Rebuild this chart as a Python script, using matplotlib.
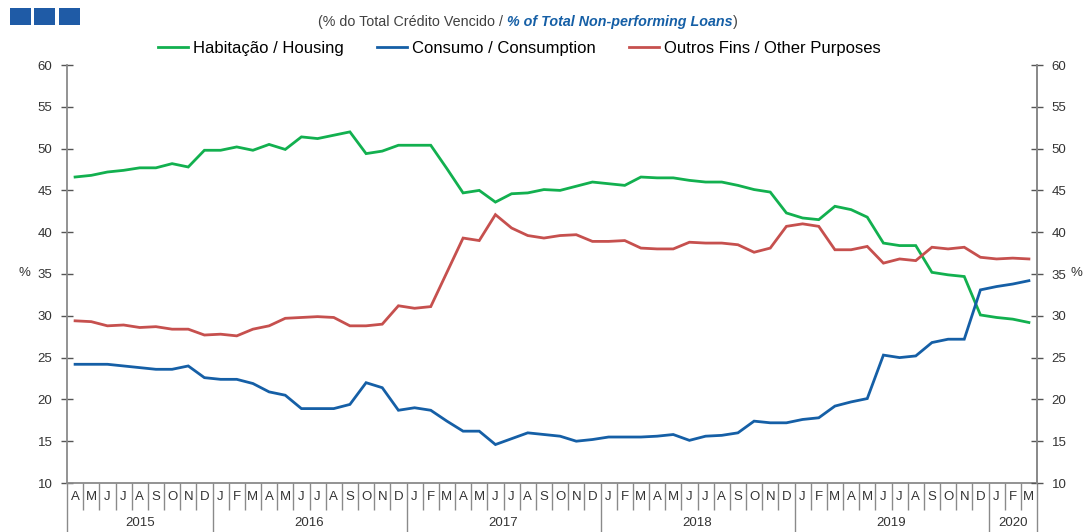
import matplotlib
matplotlib.use('Agg')
import matplotlib.pyplot as plt
from matplotlib.transforms import blended_transform_factory
from matplotlib.patches import Rectangle
from matplotlib.lines import Line2D

plt.rcParams['font.family'] = ['Liberation Sans', 'DejaVu Sans']

# ---------------- data ----------------
months = ['A', 'M', 'J', 'J', 'A', 'S', 'O', 'N', 'D'] + \
         ['J', 'F', 'M', 'A', 'M', 'J', 'J', 'A', 'S', 'O', 'N', 'D'] * 4 + \
         ['J', 'F', 'M']
years = ['2015', '2016', '2017', '2018', '2019', '2020']
months_per_year = [9, 12, 12, 12, 12, 3]

housing = [46.6, 46.8, 47.2, 47.4, 47.7, 47.7, 48.2, 47.8, 49.8,
           49.8, 50.2, 49.8, 50.5, 49.9, 51.4, 51.2, 51.6, 52.0, 49.4, 49.7, 50.4,
           50.4, 50.4, 47.6, 44.7, 45.0, 43.6, 44.6, 44.7, 45.1, 45.0, 45.5, 46.0,
           45.8, 45.6, 46.6, 46.5, 46.5, 46.2, 46.0, 46.0, 45.6, 45.1, 44.8, 42.3,
           41.7, 41.5, 43.1, 42.7, 41.8, 38.7, 38.4, 38.4, 35.2, 34.9, 34.7, 30.1,
           29.8, 29.6, 29.2]

consumption = [24.2, 24.2, 24.2, 24.0, 23.8, 23.6, 23.6, 24.0, 22.6,
               22.4, 22.4, 21.9, 20.9, 20.5, 18.9, 18.9, 18.9, 19.4, 22.0, 21.4, 18.7,
               19.0, 18.7, 17.4, 16.2, 16.2, 14.6, 15.3, 16.0, 15.8, 15.6, 15.0, 15.2,
               15.5, 15.5, 15.5, 15.6, 15.8, 15.1, 15.6, 15.7, 16.0, 17.4, 17.2, 17.2,
               17.6, 17.8, 19.2, 19.7, 20.1, 25.3, 25.0, 25.2, 26.8, 27.2, 27.2, 33.1,
               33.5, 33.8, 34.2]

other = [29.4, 29.3, 28.8, 28.9, 28.6, 28.7, 28.4, 28.4, 27.7,
         27.8, 27.6, 28.4, 28.8, 29.7, 29.8, 29.9, 29.8, 28.8, 28.8, 29.0, 31.2,
         30.9, 31.1, 35.2, 39.3, 39.0, 42.1, 40.5, 39.6, 39.3, 39.6, 39.7, 38.9,
         38.9, 39.0, 38.1, 38.0, 38.0, 38.8, 38.7, 38.7, 38.5, 37.6, 38.1, 40.7,
         41.0, 40.7, 37.9, 37.9, 38.3, 36.3, 36.8, 36.6, 38.2, 38.0, 38.2, 37.0,
         36.8, 36.9, 36.8]

series_labels = ['Habitação / Housing', 'Consumo / Consumption', 'Outros Fins / Other Purposes']
yticks = [10, 15, 20, 25, 30, 35, 40, 45, 50, 55, 60]

# ---------------- style ----------------
GREEN = '#12b04f'
BLUE = '#155fa6'
RED = '#c6504e'
AXIS = '#8a8a8a'
TXT = '#333333'
W, H = 1084, 532

fig = plt.figure(figsize=(W / 100, H / 100), dpi=100)
fig.patch.set_facecolor('white')
ax = fig.add_axes([67 / W, 49 / H, 970 / W, 418 / H])

x = list(range(len(months)))
ax.plot(x, housing, color=GREEN, lw=2.0, label=series_labels[0], solid_joinstyle='miter')
ax.plot(x, consumption, color=BLUE, lw=2.0, label=series_labels[1], solid_joinstyle='miter')
ax.plot(x, other, color=RED, lw=2.0, label=series_labels[2], solid_joinstyle='miter')

ax.set_xlim(-0.5, len(months) - 0.5)
ax.set_ylim(10, 60)
ax.set_yticks(yticks)
ax.set_yticklabels([str(v) for v in yticks])
ax.tick_params(axis='y', direction='inout', length=9, width=1, color='#555555',
               labelsize=9.5, labelcolor=TXT, pad=6)
ax.set_xticks(x)
ax.set_xticklabels(months)
ax.tick_params(axis='x', length=0, labelsize=9.5, labelcolor=TXT, pad=6)

ax.spines['top'].set_visible(False)
for s in ['left', 'right', 'bottom']:
    ax.spines[s].set_color(AXIS)
    ax.spines[s].set_linewidth(1.3)

# right axis
ax2 = ax.twinx()
ax2.set_ylim(10, 60)
ax2.set_yticks(yticks)
ax2.set_yticklabels([str(v) for v in yticks])
ax2.tick_params(axis='y', direction='inout', length=9, width=1, color='#555555',
                labelsize=9.5, labelcolor=TXT, pad=6)
for s in ['top', 'left', 'bottom']:
    ax2.spines[s].set_visible(False)
ax2.spines['right'].set_color(AXIS)
ax2.spines['right'].set_linewidth(1.3)

# % labels
fig.text(24 / W, 1 - 273 / H, '%', fontsize=9.5, color=TXT, ha='center', va='center')
fig.text(1076 / W, 1 - 273 / H, '%', fontsize=9.5, color=TXT, ha='center', va='center')

# category separators and year labels
trans = blended_transform_factory(ax.transData, ax.transAxes)
bounds = [0]
for n in months_per_year:
    bounds.append(bounds[-1] + n)
month_depth = -27 / 418
year_depth = -49 / 418
for b in range(len(months) + 1):
    y0 = year_depth if b in bounds else month_depth
    ax.plot([b - 0.5, b - 0.5], [0, y0], transform=trans, color=AXIS, lw=1,
            clip_on=False, solid_capstyle='butt')
for i, yr in enumerate(years):
    cx = (bounds[i] + bounds[i + 1]) / 2 - 0.5
    ax.text(cx, -40 / 418, yr, transform=trans, ha='center', va='center',
            fontsize=9.5, color=TXT)

# legend
handles = [Line2D([], [], color=c, lw=2.0) for c in (GREEN, BLUE, RED)]
fig.legend(handles, series_labels, loc='center', ncol=3, frameon=False,
           bbox_to_anchor=(519 / W, 1 - 48 / H), fontsize=12,
           handlelength=1.8, handletextpad=0.3, columnspacing=2.0)

# subtitle with mixed styles
r = fig.canvas.get_renderer()
ysub = 1 - 22 / H
parts = [('(% do Total Crédito Vencido / ', dict(color='#404040')),
         ('% of Total Non-performing Loans', dict(color=BLUE, weight='bold', style='italic')),
         (')', dict(color='#404040'))]
texts = [fig.text(0, ysub, p, fontsize=10.3, va='center', ha='left', **kw) for p, kw in parts]
widths = [t.get_window_extent(r).width for t in texts]
start = 528 - sum(widths) / 2
for t, w in zip(texts, widths):
    t.set_x(start / W)
    start += w

# decorative squares top-left
for x0 in (10, 34, 59):
    fig.add_artist(Rectangle((x0 / W, 1 - 25 / H), 21 / W, 17 / H,
                             transform=fig.transFigure, color='#1f5ba6', lw=0))

fig.savefig('out.png', dpi=100, facecolor='white')
